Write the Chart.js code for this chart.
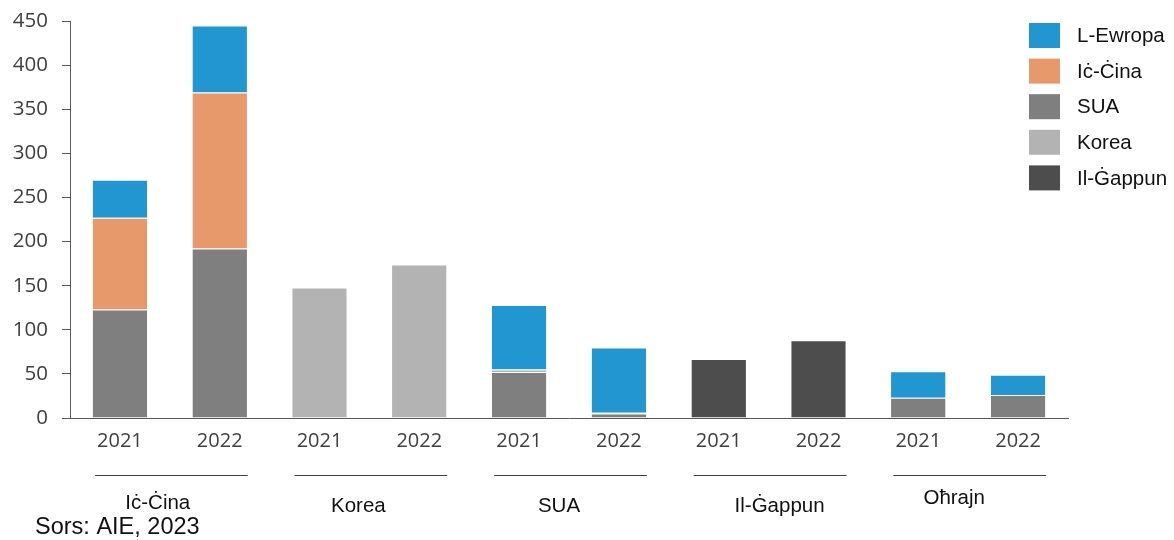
<!DOCTYPE html>
<html>
<head>
<meta charset="utf-8">
<script src="https://cdn.jsdelivr.net/npm/chart.js@4"></script>
<style>
  html, body { margin: 0; padding: 0; background: #fff; }
  #wrap { width: 1174px; height: 540px; position: relative; }
</style>
</head>
<body>
<div id="wrap"><canvas id="grafica"></canvas></div>
<script>
// Categorías y valores (GWh)
const anos = ['2021', '2022', '2021', '2022', '2021', '2022', '2021', '2022', '2021', '2022'];
const grupos = ['Iċ-Ċina', 'Korea', 'SUA', 'Il-Ġappun', 'Oħrajn'];

const valSUA = [123, 192, 0, 0, 52, 5, 0, 0, 23, 26];
const valKorea = [0, 0, 148, 174, 3, 1, 0, 0, 0, 0];
const valGappun = [0, 0, 0, 0, 0, 0, 67, 88, 0, 0];
const valCina = [104, 177, 0, 0, 0, 0, 0, 0, 0, 0];
const valEwropa = [43, 76, 0, 0, 73, 74, 0, 0, 30, 23];

const ordenLeyenda = ['L-Ewropa', 'Iċ-Ċina', 'SUA', 'Korea', 'Il-Ġappun'];
const fuente = 'Sors: AIE, 2023';

const colorTexto = '#404040';

function serie(label, data, color) {
    return {
        label: label,
        data: data,
        backgroundColor: color,
        borderColor: 'rgba(255,255,255,0.75)',
        borderWidth: { top: 1, left: 0, right: 0, bottom: 0 },
        borderSkipped: false,
        categoryPercentage: 1,
        barPercentage: 0.546
    };
}

// Líneas y nombres de grupo bajo el eje, leyenda y fuente
const extras = {
    id: 'extras',
    afterDraw(chart) {
        const ctx = chart.ctx;
        const x = chart.scales.x;
        const ajusteX = [-12, -11, -10, 11, -14];
        const ajusteY = [0, 3, 3, 3, -5];
        ctx.save();
        grupos.forEach((g, i) => {
            const x0 = x.getPixelForValue(i * 2);
            const x1 = x.getPixelForValue(i * 2 + 1);
            ctx.strokeStyle = '#404040';
            ctx.lineWidth = 1;
            ctx.beginPath();
            ctx.moveTo(x0 - 25, 475.5);
            ctx.lineTo(x1 + 28, 475.5);
            ctx.stroke();
            ctx.fillStyle = '#111';
            ctx.font = '20.5px "Liberation Sans", Arial, sans-serif';
            ctx.textAlign = 'center';
            ctx.textBaseline = 'middle';
            ctx.fillText(g, (x0 + x1) / 2 + ajusteX[i], 503 + ajusteY[i]);
        });

        // Leyenda
        ctx.font = '20.5px "Liberation Sans", Arial, sans-serif';
        ctx.textAlign = 'left';
        ctx.textBaseline = 'middle';
        ordenLeyenda.forEach((nombre, i) => {
            const ds = chart.data.datasets.find(d => d.label === nombre);
            const y = 23 + i * 35.6;
            ctx.fillStyle = ds.backgroundColor;
            ctx.fillRect(1029, y, 31, 25);
            ctx.fillStyle = '#111';
            ctx.fillText(nombre, 1077, y + 13.5);
        });

        // Fuente
        ctx.font = '23.5px "Liberation Sans", Arial, sans-serif';
        ctx.fillText(fuente, 35, 528);
        ctx.restore();
    }
};

window.addEventListener('DOMContentLoaded', () => {
    const ctx = document.getElementById('grafica').getContext('2d');
    new Chart(ctx, {
        type: 'bar',
        data: {
            labels: anos,
            datasets: [
                serie('SUA', valSUA, '#7f7f7f'),
                serie('Korea', valKorea, '#b3b3b3'),
                serie('Il-Ġappun', valGappun, '#4d4d4d'),
                serie('Iċ-Ċina', valCina, '#e8996b'),
                serie('L-Ewropa', valEwropa, '#2196d0')
            ]
        },
        options: {
            responsive: true,
            maintainAspectRatio: false,
            animation: false,
            layout: { padding: { top: 21, right: 106, bottom: 0, left: 0 } },
            plugins: {
                legend: { display: false },
                tooltip: { enabled: false }
            },
            scales: {
                x: {
                    stacked: true,
                    grid: { display: false, drawTicks: false },
                    border: { display: true, color: '#595959', width: 1 },
                    ticks: {
                        padding: 11,
                        color: colorTexto,
                        font: { family: '"Open Sans", sans-serif', size: 20 },
                        maxRotation: 0,
                        autoSkip: false
                    },
                    afterFit: (s) => { s.height = 122; }
                },
                y: {
                    stacked: true,
                    min: 0,
                    max: 450,
                    grid: {
                        display: true,
                        drawOnChartArea: false,
                        drawTicks: true,
                        tickLength: 8,
                        color: '#595959'
                    },
                    border: { display: true, color: '#595959', width: 1 },
                    ticks: {
                        stepSize: 50,
                        padding: 14,
                        color: colorTexto,
                        font: { family: '"Open Sans", sans-serif', size: 20.5 }
                    },
                    afterFit: (s) => {
                        s.width = 70;
                        s.paddingTop = 0;
                        s.paddingBottom = 0;
                    }
                }
            }
        },
        plugins: [extras]
    });
});
</script>
</body>
</html>
